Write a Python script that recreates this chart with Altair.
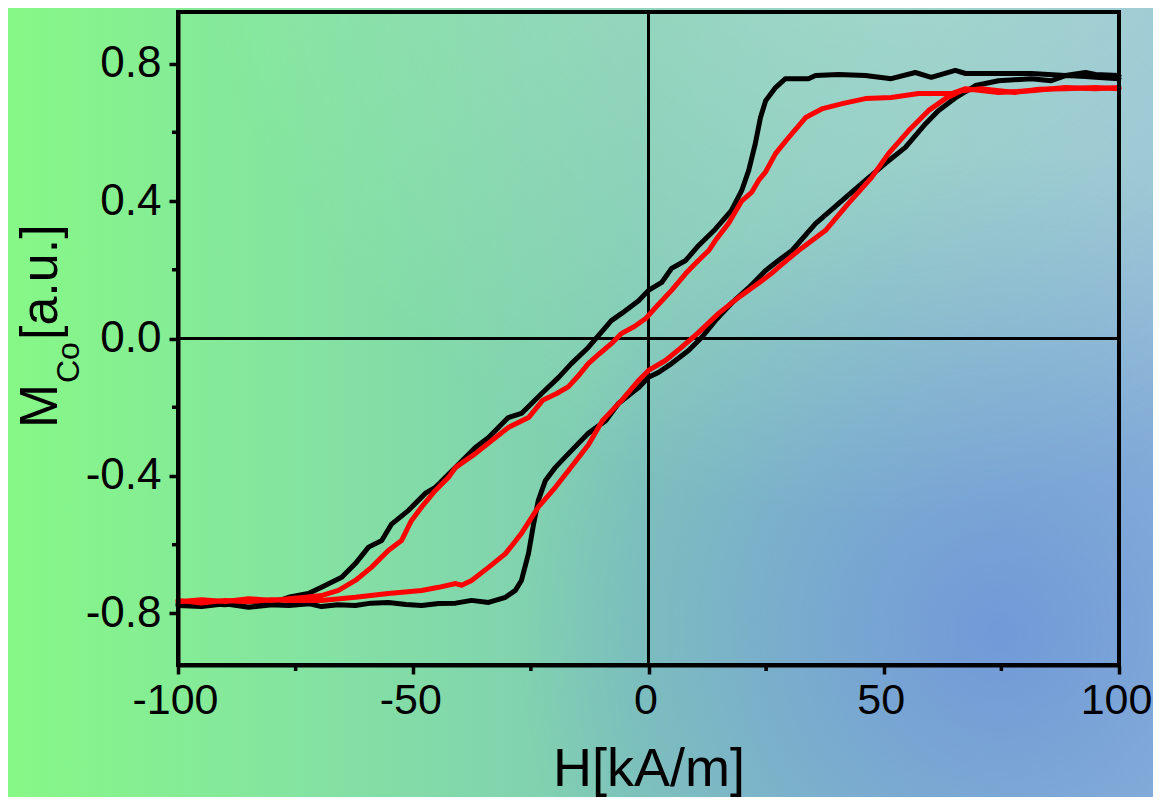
import altair as alt
import pandas as pd

# ---- data ----
black_up_H = [100, 95, 92.9, 88.6, 81.4, 74.4, 67.4, 65.2, 60.1, 56.7, 51.6, 46.1, 40.4, 35.5, 34.0,
              29.1, 27.0, 24.9, 23.8, 22.7, 21.3, 19.8, 17.6, 14.2, 10.6, 7.9, 4.9, 2.8, 0, -2.1,
              -5.7, -7.9, -10.6, -12.8, -16.4, -19.1, -22.7, -27.0, -29.8, -34.0, -36.8, -41.0,
              -45.3, -47.4, -51.0, -54.6, -56.7, -59.5, -62.3, -65.2, -69.5, -72.3, -76.5, -80,
              -85, -90, -95, -100]
black_up_M = [0.765, 0.768, 0.774, 0.765, 0.771, 0.771, 0.771, 0.78, 0.76, 0.774, 0.756, 0.765,
              0.768, 0.765, 0.756, 0.756, 0.73, 0.692, 0.643, 0.567, 0.489, 0.43, 0.372, 0.318,
              0.27, 0.227, 0.204, 0.163, 0.14, 0.11, 0.073, 0.052, 0.009, -0.026, -0.073, -0.113,
              -0.16, -0.218, -0.23, -0.288, -0.317, -0.375, -0.433, -0.45, -0.50, -0.54, -0.588,
              -0.607, -0.655, -0.695, -0.724, -0.742, -0.753, -0.77, -0.765, -0.775, -0.77, -0.772]

black_lo_H = [-100, -95, -90, -85, -80, -76.5, -72, -69.5, -66, -62.3, -59, -55.3, -51.5, -48.2,
              -44.6, -41, -37.6, -34, -30.4, -28.3, -27.0, -25.5, -24.4, -23.4, -21.9, -19.8,
              -17.0, -12.8, -9.1, -6.4, -2.1, 0, 2.1, 4.9, 8.5, 11.3, 14.2, 17.6, 21.3, 24.9,
              27.6, 30.5, 35.5, 41.0, 46.1, 50.3, 54.6, 58.9, 61.6, 65.2, 69.5, 74.4, 81.4, 85.6,
              88.6, 92.9, 95, 100]
black_lo_M = [-0.777, -0.78, -0.772, -0.782, -0.775, -0.777, -0.772, -0.78, -0.775, -0.777, -0.77,
              -0.768, -0.774, -0.777, -0.771, -0.77, -0.762, -0.768, -0.753, -0.733, -0.704,
              -0.625, -0.538, -0.47, -0.413, -0.375, -0.335, -0.276, -0.239, -0.189, -0.143,
              -0.113, -0.099, -0.073, -0.035, 0.003, 0.052, 0.102, 0.148, 0.198, 0.227, 0.256,
              0.334, 0.40, 0.46, 0.509, 0.556, 0.625, 0.663, 0.70, 0.736, 0.75, 0.756, 0.75,
              0.765, 0.762, 0.76, 0.756]

red_up_H = [100, 95, 88.6, 81.4, 74.4, 67.4, 64.6, 57.4, 51.6, 46.1, 41.4, 37.0, 33.4, 29.8, 27.0,
            24.9, 23.4, 21.9, 19.8, 17.0, 14.2, 12.8, 10.6, 7.9, 4.9, 1.5, -0.6, -3.0, -5.7, -7.9,
            -10.5, -12.8, -15, -17.0, -19.5, -22.5, -25.5, -29.8, -32.5, -36.8, -41.0, -42.5,
            -45.3, -48.2, -50.4, -52.5, -55.3, -58.9, -62.3, -65.9, -69.5, -72.9, -76.5, -80,
            -85, -90, -95, -100]
red_up_M = [0.73, 0.727, 0.73, 0.721, 0.716, 0.727, 0.713, 0.713, 0.701, 0.698, 0.684, 0.669,
            0.643, 0.585, 0.538, 0.485, 0.46, 0.425, 0.40, 0.335, 0.285, 0.256, 0.227, 0.189,
            0.14, 0.09, 0.058, 0.035, 0.015, -0.015, -0.045, -0.073, -0.11, -0.14, -0.16, -0.18,
            -0.23, -0.259, -0.288, -0.335, -0.375, -0.404, -0.442, -0.49, -0.53, -0.588, -0.617,
            -0.666, -0.704, -0.733, -0.748, -0.753, -0.757, -0.762, -0.757, -0.765, -0.76, -0.766]

red_lo_H = [-100, -95, -90, -85, -80, -76.5, -69.5, -62.3, -55.3, -48.2, -44.6, -41.0, -39.7,
            -37.6, -34.0, -30.4, -27.0, -23.4, -19.8, -17.0, -12.8, -9.8, -5.7, -2.1, 0, 3.6,
            7.0, 10.6, 14.9, 19.1, 22.7, 26.1, 27.6, 31.9, 37.6, 42.5, 47.4, 51.0, 55.3, 59.5,
            63.1, 66.5, 70.7, 77.9, 83, 88.6, 95, 100]
red_lo_M = [-0.762, -0.77, -0.762, -0.766, -0.76, -0.762, -0.762, -0.753, -0.742, -0.733, -0.724,
            -0.713, -0.718, -0.704, -0.666, -0.626, -0.567, -0.49, -0.433, -0.384, -0.31, -0.239,
            -0.18, -0.122, -0.093, -0.064, -0.026, 0.017, 0.073, 0.119, 0.154, 0.189, 0.207,
            0.256, 0.314, 0.393, 0.468, 0.538, 0.605, 0.663, 0.698, 0.721, 0.727, 0.716, 0.725,
            0.727, 0.73, 0.727]

x_ticks = [-100, -50, 0, 50, 100]
y_ticks = [-0.8, -0.4, 0.0, 0.4, 0.8]
x_minor = [-75, -25, 25, 75]
y_minor = [-0.6, -0.2, 0.2, 0.6]

# ---- tables ----
rows = []
for series, branch, hs, ms in [
    ("black", "black_up", black_up_H, black_up_M),
    ("black", "black_lo", black_lo_H, black_lo_M),
    ("red", "red_up", red_up_H, red_up_M),
    ("red", "red_lo", red_lo_H, red_lo_M),
]:
    for i, (h, m) in enumerate(zip(hs, ms)):
        rows.append({"series": series, "branch": branch, "idx": i, "H": h, "M": m})
df = pd.DataFrame(rows)

W, HGT = 941, 653
PAD = {"left": 170, "top": 4, "right": 34, "bottom": 132}
FONT = "Liberation Sans"

x_scale = alt.Scale(domain=[-100, 100], nice=False, zero=False)
y_scale = alt.Scale(domain=[-0.95, 0.95], nice=False, zero=False)

x_axis = alt.Axis(values=x_ticks, title=None, grid=False, zindex=2,
                  domainColor="black", domainWidth=4, tickColor="black", tickWidth=3.5,
                  tickSize=9, labelFont=FONT, labelFontSize=43, labelColor="black",
                  labelPadding=5, labelFlush=False, labelOffset=-3,
                  labelExpr="replace(format(datum.value, 'd'), '\u2212', '-')")
y_axis = alt.Axis(values=y_ticks, title=None, grid=False, zindex=2,
                  domainColor="black", domainWidth=4, tickColor="black", tickWidth=3.5,
                  tickSize=9, labelFont=FONT, labelFontSize=44, labelColor="black",
                  labelPadding=8, labelFlush=False,
                  labelExpr="replace(format(datum.value, '.1f'), '\u2212', '-')")

one = pd.DataFrame({"k": [0]})

# ---- background gradients ----
bg_enc = dict(x=alt.value(-PAD["left"]), x2=alt.value(W + PAD["right"]),
              y=alt.value(-PAD["top"]), y2=alt.value(HGT + PAD["bottom"]))
bg_lin = alt.Chart(one).mark_rect(
    fill=alt.LinearGradient(gradient="linear", x1=0, y1=0, x2=1, y2=0, stops=[
        alt.GradientStop(offset=0, color="#86f886"),
        alt.GradientStop(offset=0.25, color="#84e4a0"),
        alt.GradientStop(offset=0.55, color="#80cab6"),
        alt.GradientStop(offset=1, color="#96c0d6"),
    ])).encode(**bg_enc)
bg_rad = alt.Chart(one).mark_rect(
    fill=alt.RadialGradient(gradient="radial", x1=0.865, y1=0.70, r1=0, x2=0.865, y2=0.70, r2=0.42,
                            stops=[
        alt.GradientStop(offset=0, color="rgba(108,146,218,0.85)"),
        alt.GradientStop(offset=0.5, color="rgba(108,146,218,0.45)"),
        alt.GradientStop(offset=1, color="rgba(108,146,218,0)"),
    ])).encode(**bg_enc)
bg_top = alt.Chart(one).mark_rect(
    fill=alt.RadialGradient(gradient="radial", x1=0.75, y1=0, r1=0, x2=0.75, y2=0, r2=0.6,
                            stops=[
        alt.GradientStop(offset=0, color="rgba(200,245,210,0.45)"),
        alt.GradientStop(offset=1, color="rgba(200,245,210,0)"),
    ])).encode(**bg_enc)

# ---- zero lines ----
zero = pd.DataFrame({"v": [0.0]})
zero_x = alt.Chart(zero).mark_rule(color="black", strokeWidth=3).encode(
    x=alt.X("v:Q", scale=x_scale, axis=x_axis))
zero_y = alt.Chart(zero).mark_rule(color="black", strokeWidth=3).encode(
    y=alt.Y("v:Q", scale=y_scale, axis=y_axis))

# ---- loops ----
def loop(series):
    return alt.Chart(df[df.series == series]).mark_line(
        strokeWidth=5, strokeJoin="round", strokeCap="round",
        color="#000000" if series == "black" else "#ff0000").encode(
        x=alt.X("H:Q", scale=x_scale, axis=x_axis),
        y=alt.Y("M:Q", scale=y_scale, axis=y_axis),
        detail="branch:N",
        order="idx:Q",
    )

# ---- frame and minor ticks ----
frame = alt.Chart(one).mark_rect(fillOpacity=0, stroke="black", strokeWidth=4).encode(
    x=alt.XDatum(-100, axis=x_axis), x2=alt.X2Datum(100),
    y=alt.YDatum(-0.95, axis=y_axis), y2=alt.Y2Datum(0.95))
ym = alt.Chart(pd.DataFrame({"m": y_minor})).mark_rule(color="black", strokeWidth=3.5).encode(
    y=alt.Y("m:Q", axis=y_axis), x=alt.value(-6), x2=alt.value(0))
xm = alt.Chart(pd.DataFrame({"m": x_minor})).mark_rule(color="black", strokeWidth=3.5).encode(
    x=alt.X("m:Q", axis=x_axis), y=alt.value(HGT), y2=alt.value(HGT + 6))

# ---- titles ----
def txt(s, x, y, size, angle=0, align="left"):
    kw = dict(text=s, font=FONT, fontSize=size, color="black", align=align, baseline="alphabetic")
    if angle:
        kw["angle"] = angle
    return alt.Chart(one).mark_text(**kw).encode(x=alt.value(x), y=alt.value(y))

t_M = txt("M", -121, 416, 53, 270)
t_Co = txt("Co", -99, 371, 32, 270)
t_au = txt("[a.u.]", -121, 328, 52, 270)
t_H = txt("H[kA/m]", 471, 774, 54, 0, "center")

chart = alt.layer(
    bg_lin, bg_rad, bg_top, zero_x, zero_y, loop("black"), loop("red"), frame, ym, xm,
    t_M, t_Co, t_au, t_H,
).properties(
    width=W, height=HGT, padding=PAD, autosize=alt.AutoSizeParams(type="none"),
    background="#86d0b0",
).configure_view(stroke="transparent")

chart.save("out.html", embed_options={"renderer": "svg", "actions": False})
